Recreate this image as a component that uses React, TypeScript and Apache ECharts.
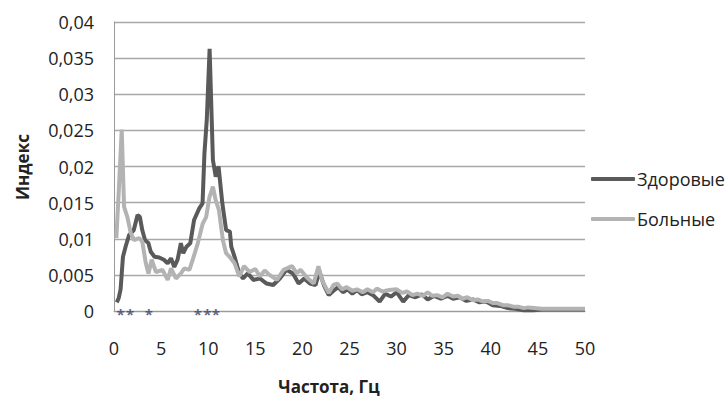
import React, { useEffect, useRef } from "react";
import * as echarts from "echarts";

const seriesNames = ["Здоровые", "Больные"];

const healthyFreq = [0.3, 0.5, 0.7, 0.95, 1.25, 1.6, 2.1, 2.5, 2.75, 3.0, 3.3, 3.65, 3.9, 4.3, 4.8, 5.3, 5.7, 6.05, 6.4, 6.75, 7.1, 7.35, 7.7, 8.1, 8.5, 9.05, 9.4, 9.6, 9.85, 10.15, 10.5, 10.8, 11.1, 11.5, 11.9, 12.3, 12.45, 12.8, 13.3, 13.7, 14.2, 14.8, 15.5, 16.2, 16.9, 17.6, 18.3, 19.0, 19.6, 20.2, 20.8, 21.4, 21.8, 22.3, 22.8, 23.3, 23.8, 24.3, 24.8, 25.3, 25.8, 26.3, 26.9, 27.5, 28.2, 28.8, 29.4, 30.0, 30.7, 31.3, 32.0, 32.7, 33.3, 34.0, 34.7, 35.4, 36.0, 36.7, 37.4, 38.1, 38.8, 39.5, 40.2, 41.0, 41.8, 42.6, 43.5, 44.5, 45.5, 46.5, 48, 50];
const healthyValues = [0.0012, 0.0018, 0.003, 0.0075, 0.009, 0.0105, 0.0112, 0.0133, 0.013, 0.0112, 0.0098, 0.0094, 0.0082, 0.0075, 0.0074, 0.0071, 0.0066, 0.0073, 0.0061, 0.0071, 0.0094, 0.008, 0.0089, 0.0094, 0.0126, 0.0142, 0.0149, 0.0218, 0.0265, 0.0363, 0.0209, 0.0186, 0.02, 0.0149, 0.0112, 0.011, 0.0089, 0.0075, 0.0052, 0.0045, 0.0052, 0.0043, 0.0045, 0.0038, 0.0036, 0.0045, 0.0057, 0.0052, 0.0038, 0.0045, 0.0038, 0.0036, 0.0055, 0.0035, 0.0022, 0.0028, 0.0033, 0.0026, 0.003, 0.0024, 0.0029, 0.0023, 0.0026, 0.0022, 0.0013, 0.0024, 0.002, 0.0026, 0.0013, 0.0022, 0.0019, 0.0023, 0.0016, 0.0021, 0.0017, 0.0021, 0.0017, 0.0019, 0.0014, 0.0016, 0.0012, 0.0013, 0.0008, 0.0007, 0.0004, 0.0003, 0.0001, 0.0001, 0.0002, 0.0002, 0.0002, 0.0002];

const patientFreq = [0.25, 0.53, 0.82, 1.07, 1.42, 1.78, 2.13, 2.67, 3.0, 3.38, 3.66, 4.0, 4.45, 5.15, 5.7, 6.05, 6.58, 7.1, 7.47, 8.0, 8.36, 8.9, 9.42, 9.78, 10.14, 10.5, 10.78, 11.13, 11.56, 11.9, 12.27, 12.8, 13.3, 13.8, 14.4, 15.0, 15.5, 16.0, 16.5, 17.3, 18.0, 18.9, 19.4, 19.8, 20.5, 21.2, 21.7, 22.1, 22.8, 23.3, 23.7, 24.2, 24.7, 25.3, 25.8, 26.4, 26.9, 27.5, 27.9, 28.5, 29.2, 30.0, 30.6, 31.1, 31.7, 32.2, 32.8, 33.3, 33.8, 34.3, 34.9, 35.4, 36.0, 36.5, 37.0, 37.5, 38.1, 38.6, 39.2, 39.7, 40.2, 40.7, 41.3, 41.8, 42.4, 42.9, 43.5, 44.0, 45.4, 47.5, 50];
const patientValues = [0.0101, 0.0172, 0.0251, 0.0144, 0.013, 0.0108, 0.0098, 0.0101, 0.0096, 0.0066, 0.0052, 0.0071, 0.0054, 0.0057, 0.0043, 0.0059, 0.0045, 0.0052, 0.0059, 0.0057, 0.0071, 0.0094, 0.0121, 0.013, 0.0158, 0.0172, 0.0154, 0.014, 0.0098, 0.008, 0.0075, 0.0066, 0.0048, 0.0062, 0.0054, 0.0058, 0.0048, 0.0056, 0.005, 0.0043, 0.0057, 0.0062, 0.0052, 0.0057, 0.0046, 0.0038, 0.0062, 0.0042, 0.0025, 0.0036, 0.0038, 0.003, 0.0033, 0.0028, 0.003, 0.0026, 0.003, 0.0026, 0.0031, 0.0027, 0.0029, 0.003, 0.0025, 0.0027, 0.0022, 0.0024, 0.0021, 0.0026, 0.0021, 0.0022, 0.0019, 0.0024, 0.002, 0.0021, 0.0017, 0.0019, 0.0015, 0.0016, 0.0013, 0.0014, 0.0011, 0.0011, 0.0008, 0.0008, 0.0006, 0.0006, 0.0004, 0.0005, 0.0003, 0.0003, 0.0003];

const significantFreq = [0.7, 1.7, 3.7, 8.9, 9.9, 10.8];

const xTicks = { min: 0, max: 50, interval: 5 };
const yTicks = { min: 0, max: 0.04, interval: 0.005 };

const xTitle = "Частота, Гц";
const yTitle = "Индекс";

export default function App() {
  const ref = useRef<HTMLDivElement>(null);
  useEffect(() => {
    if (!ref.current) return;
    const chart = echarts.init(ref.current, null, { renderer: "svg" });
    const font = "'Open Sans', sans-serif";
    chart.setOption({
      animation: false,
      backgroundColor: "#ffffff",
      grid: { left: 114, top: 22, width: 471, height: 289, containLabel: false },
      legend: {
        data: seriesNames,
        orient: "vertical",
        left: 586,
        top: 165,
        itemWidth: 44,
        itemHeight: 4,
        itemGap: 22,
        icon: "roundRect",
        textStyle: { fontFamily: font, fontSize: 18, color: "#222", padding: [0, 0, 0, -3] },
      },
      xAxis: {
        type: "value",
        min: xTicks.min,
        max: xTicks.max,
        interval: xTicks.interval,
        axisLine: { show: true, lineStyle: { color: "#9a9a9a", width: 1 } },
        axisTick: { show: false },
        splitLine: { show: false },
        axisLabel: { fontFamily: font, fontSize: 18, color: "#222", margin: 28 },
      },
      yAxis: {
        type: "value",
        min: yTicks.min,
        max: yTicks.max,
        interval: yTicks.interval,
        axisLine: { show: true, lineStyle: { color: "#9a9a9a", width: 1 } },
        axisTick: { show: false },
        splitLine: { show: true, lineStyle: { color: "#a8a8a8", width: 1.3 } },
        axisLabel: {
          fontFamily: font,
          fontSize: 18,
          color: "#222",
          margin: 20,
          formatter: (v: number) => String(Number(v.toFixed(3))).replace(".", ","),
        },
      },
      graphic: [
        {
          type: "text",
          x: 22,
          y: 167,
          rotation: Math.PI / 2,
          style: {
            text: yTitle,
            fontFamily: font,
            fontSize: 17,
            fontWeight: "bold",
            fill: "#222",
            align: "center",
            verticalAlign: "middle",
          },
        },
        {
          type: "text",
          x: 329,
          y: 386,
          style: {
            text: xTitle,
            fontFamily: font,
            fontSize: 17,
            fontWeight: "bold",
            fill: "#222",
            align: "center",
            verticalAlign: "middle",
          },
        },
      ],
      series: [
        {
          name: seriesNames[0],
          type: "line",
          data: healthyFreq.map((f, i) => [f, healthyValues[i]]),
          showSymbol: false,
          symbol: "none",
          color: "#5a5a5a",
          lineStyle: { color: "#5a5a5a", width: 4 },
          z: 2,
        },
        {
          name: seriesNames[1],
          type: "line",
          data: patientFreq.map((f, i) => [f, patientValues[i]]),
          showSymbol: false,
          symbol: "none",
          color: "#b3b3b3",
          lineStyle: { color: "#b3b3b3", width: 4 },
          z: 3,
        },
        {
          name: "sig",
          type: "scatter",
          data: significantFreq.map((f) => [f, 0]),
          symbolSize: 0,
          z: 5,
          label: {
            show: true,
            position: "inside",
            formatter: "*",
            fontFamily: font,
            fontSize: 15,
            fontWeight: "bold",
            color: "#3a3f6a",
            offset: [0, 3],
          },
        },
      ],
    });
    return () => chart.dispose();
  }, []);
  return (
    <div
      ref={ref}
      style={{ position: "fixed", left: 0, top: 0, width: 726, height: 396 }}
    />
  );
}
